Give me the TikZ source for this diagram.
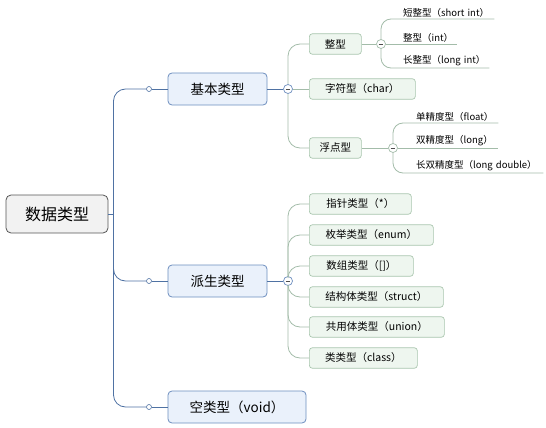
\documentclass[tikz,border=0pt]{standalone}
\usepackage{fontspec}
\newfontfamily\cjk{Noto Sans CJK SC}
\definecolor{rootfill}{HTML}{F2F2F2}
\definecolor{rootdraw}{HTML}{555555}
\definecolor{lonefill}{HTML}{EAF1FB}
\definecolor{lonedraw}{HTML}{6D8EBF}
\definecolor{ltwofill}{HTML}{EEF6EF}
\definecolor{ltwodraw}{HTML}{A9C6AE}
\definecolor{trunkcol}{HTML}{4F72A3}
\definecolor{greencol}{HTML}{A3BCA9}
\begin{document}
\begin{tikzpicture}[x=1pt,y=-1pt,
  rootbox/.style={draw=rootdraw, fill=rootfill, rounded corners=5pt, line width=0.8pt,
    minimum width=102pt, minimum height=38pt, inner sep=0pt, font=\cjk\fontsize{16}{18}\selectfont},
  lonebox/.style={draw=lonedraw, fill=lonefill, rounded corners=4pt, line width=0.8pt,
    minimum height=32pt, inner sep=0pt, font=\cjk\fontsize{13.5}{15}\selectfont},
  ltwobox/.style={draw=ltwodraw, fill=ltwofill, rounded corners=3pt, line width=0.7pt,
    minimum height=20.5pt, anchor=west, inner sep=0pt, font=\cjk\fontsize{10.5}{12}\selectfont},
  leaf/.style={anchor=south west, inner xsep=0pt, inner ysep=1.5pt, align=left,
    font=\cjk\fontsize{9.5}{11}\selectfont},
  dotmark/.style={circle, draw=trunkcol, fill=white, line width=0.6pt, minimum size=5pt, inner sep=0pt},
  foldmark/.style={circle, draw=#1, fill=white, line width=0.7pt, minimum size=9pt, inner sep=0pt,
    path picture={\draw[line width=0.8pt, black!70]
      ([xshift=-2.4pt]path picture bounding box.center) -- ([xshift=2.4pt]path picture bounding box.center);}},
  trunkline/.style={draw=trunkcol, line width=0.8pt},
  greenline/.style={draw=greencol, line width=0.8pt},
]
\useasboundingbox (0,0) rectangle (546,428);

% root and level 1
\node[rootbox] (root) at (57,214) {数据类型};
\coordinate (trunk) at (113.5,214);
\node[lonebox, minimum width=99pt] (basic) at (217.5,89) {基本类型};
\node[lonebox, minimum width=99pt] (derived) at (217.5,281) {派生类型};
\node[lonebox, minimum width=138pt] (void) at (237,407) {空类型（void）};
\node[dotmark] (d1) at (149,89) {};
\node[dotmark] (d2) at (149,281) {};
\node[dotmark] (d3) at (149,407) {};
\node[foldmark=lonedraw] (m1) at (288,89) {};
\node[foldmark=lonedraw] (m2) at (288,281) {};

% level 2 under basic
\node[ltwobox, minimum width=52pt] (k1) at (309,44) {整型};
\node[ltwobox, minimum width=106pt] (k2) at (309,89) {字符型（char）};
\node[ltwobox, minimum width=52pt] (k3) at (309,148) {浮点型};
\node[foldmark=greencol] (c1) at (381,44) {};
\node[foldmark=greencol] (c3) at (393,148) {};

% leaves
\node[leaf, text width=91pt] (s1) at (403,19) {短整型（short int）};
\node[leaf, text width=54pt] (s2) at (403,44) {整型（int）};
\node[leaf, text width=86pt] (s3) at (403,68) {长整型（long int）};
\node[leaf, text width=82pt] (f1) at (416,123) {单精度型（float）};
\node[leaf, text width=82pt] (f2) at (416,148) {双精度型（long）};
\node[leaf, text width=127pt] (f3) at (416,173) {长双精度型（long double）};

% level 2 under derived
\node[ltwobox, minimum width=102pt] (p1) at (309,204) {指针类型（*）};
\node[ltwobox, minimum width=124pt] (p2) at (309,235) {枚举类型（enum）};
\node[ltwobox, minimum width=104pt] (p3) at (309,266) {数组类型（[]）};
\node[ltwobox, minimum width=134pt] (p4) at (309,297) {结构体类型（struct）};
\node[ltwobox, minimum width=135pt] (p5) at (309,327) {共用体类型（union）};
\node[ltwobox, minimum width=108pt] (p6) at (309,358) {类类型（class）};

% trunk connectors
\draw[trunkline] (root.east) -- (trunk);
\draw[trunkline, rounded corners=12pt] (trunk) |- (d1.west);
\draw[trunkline, rounded corners=12pt] (trunk) |- (d2.west);
\draw[trunkline, rounded corners=12pt] (trunk) |- (d3.west);
\draw[trunkline] (d1.east) -- (basic.west);
\draw[trunkline] (d2.east) -- (derived.west);
\draw[trunkline] (d3.east) -- (void.west);
\draw[trunkline] (basic.east) -- (m1.west);
\draw[trunkline] (derived.east) -- (m2.west);

% basic children
\draw[greenline, rounded corners=12pt] (m1.north) |- (k1.west);
\draw[greenline] (m1.east) -- (k2.west);
\draw[greenline, rounded corners=12pt] (m1.south) |- (k3.west);
\draw[greenline] (k1.east) -- (c1.west);
\draw[greenline] (k3.east) -- (c3.west);

% leaves lines
\draw[greenline, rounded corners=10pt] (c1.north) |- (s1.south east);
\draw[greenline] (c1.east) -- (s2.south east);
\draw[greenline, rounded corners=10pt] (c1.south) |- (s3.south east);
\draw[greenline, rounded corners=10pt] (c3.north) |- (f1.south east);
\draw[greenline] (c3.east) -- (f2.south east);
\draw[greenline, rounded corners=10pt] (c3.south) |- (f3.south east);

% derived children
\draw[greenline, rounded corners=12pt] (m2.north) |- (p1.west);
\draw[greenline, rounded corners=12pt] (m2.north) |- (p2.west);
\draw[greenline, rounded corners=12pt] (m2.north) |- (p3.west);
\draw[greenline, rounded corners=12pt] (m2.south) |- (p4.west);
\draw[greenline, rounded corners=12pt] (m2.south) |- (p5.west);
\draw[greenline, rounded corners=12pt] (m2.south) |- (p6.west);
\end{tikzpicture}
\end{document}
